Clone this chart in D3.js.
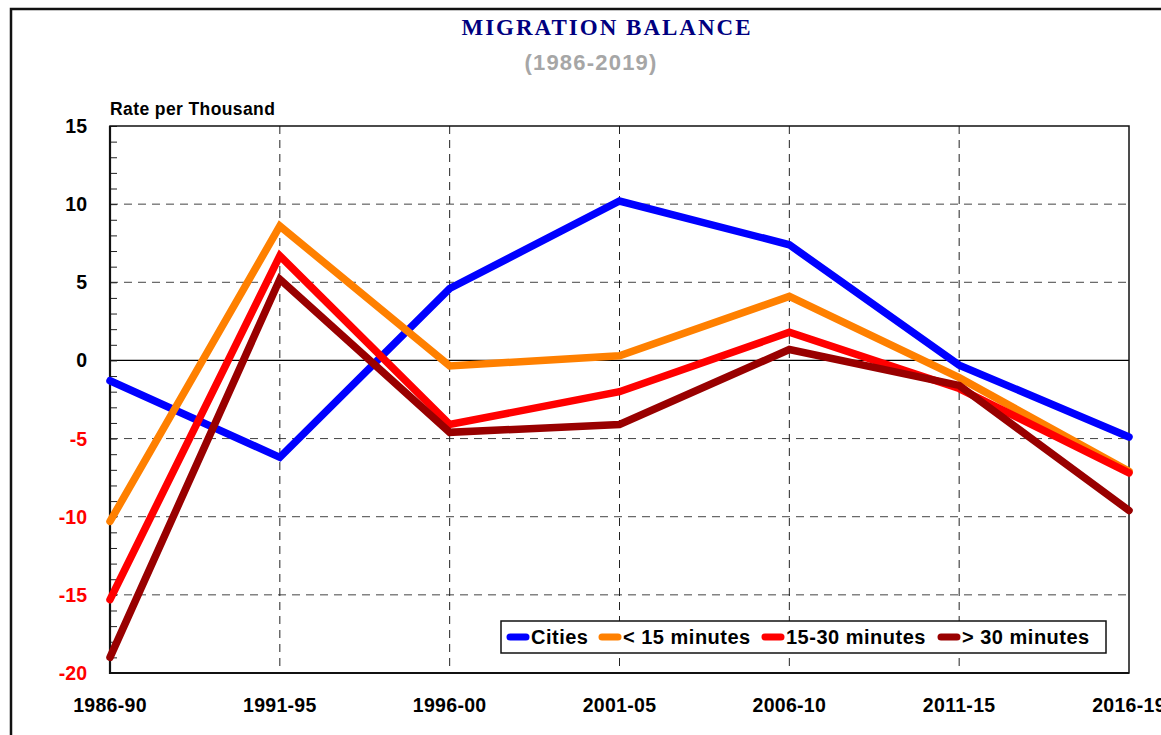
<!DOCTYPE html>
<html>
<head>
<meta charset="utf-8">
<script src="https://cdn.jsdelivr.net/npm/d3@7"></script>
<style>
  body { margin: 0; background: #fff; }
  svg { display: block; font-family: "Liberation Sans", Arial, sans-serif; }
</style>
</head>
<body>
<svg id="chart"></svg>
<script>
// DATA
const periods = ["1986-90", "1991-95", "1996-00", "2001-05", "2006-10", "2011-15", "2016-19"];
const cities = [-1.3, -6.2, 4.6, 10.2, 7.4, -0.3, -4.9];
const under15 = [-10.3, 8.6, -0.35, 0.3, 4.1, -1.1, -7.1];
const from15to30 = [-15.3, 6.7, -4.1, -2.0, 1.8, -1.8, -7.2];
const over30 = [-19.0, 5.2, -4.6, -4.1, 0.7, -1.6, -9.6];
const seriesNames = ["Cities", "< 15 minutes", "15-30 minutes", "> 30 minutes"];
const yTicks = [15, 10, 5, 0, -5, -10, -15, -20];

const seriesColors = ["#0000ff", "#ff8000", "#ff0000", "#990000"];
const allSeries = [cities, under15, from15to30, over30];

// SVG
const wsvg = 1161, hsvg = 735;
const plotLeft = 110, plotRight = 1129, plotTop = 126, plotBottom = 673;

const svg = d3.select("#chart")
    .attr("width", wsvg)
    .attr("height", hsvg);

// outer frame (only top and left visible)
svg.append("path")
    .attr("d", `M11,740 L11,9 L1170,9`)
    .attr("fill", "none")
    .attr("stroke", "#111")
    .attr("stroke-width", 2.5);

const xScale = d3.scalePoint(periods, [plotLeft, plotRight]);
const yScale = d3.scaleLinear([-20, 15], [plotBottom, plotTop]);

// grid
svg.append("g")
    .selectAll("line")
    .data(yTicks.filter(d => d !== 0 && d !== 15 && d !== -20))
    .join("line")
    .attr("x1", plotLeft).attr("x2", plotRight)
    .attr("y1", d => yScale(d)).attr("y2", d => yScale(d))
    .attr("stroke", "#444")
    .attr("stroke-width", 1)
    .attr("stroke-dasharray", "8,6");

svg.append("g")
    .selectAll("line")
    .data(periods.slice(1, -1))
    .join("line")
    .attr("x1", d => xScale(d)).attr("x2", d => xScale(d))
    .attr("y1", plotTop).attr("y2", plotBottom)
    .attr("stroke", "#222")
    .attr("stroke-width", 1)
    .attr("stroke-dasharray", "8,6");

// zero line
svg.append("line")
    .attr("x1", plotLeft).attr("x2", plotRight)
    .attr("y1", yScale(0)).attr("y2", yScale(0))
    .attr("stroke", "#000")
    .attr("stroke-width", 1.2);

// minor ticks on y axis (pointing inwards)
const yAxis = d3.axisRight(yScale)
    .tickValues(d3.range(-20, 16, 1))
    .tickSize(7)
    .tickFormat("");
const yAxisG = svg.append("g")
    .attr("transform", `translate(${plotLeft},0)`)
    .call(yAxis);
yAxisG.select(".domain").remove();
yAxisG.selectAll(".tick line").attr("stroke", "#222");

// plot border
svg.append("rect")
    .attr("x", plotLeft).attr("y", plotTop)
    .attr("width", plotRight - plotLeft).attr("height", plotBottom - plotTop)
    .attr("fill", "none")
    .attr("stroke", "#111")
    .attr("stroke-width", 1.5);
svg.append("path")
    .attr("d", `M${plotLeft},${plotTop} L${plotLeft},${plotBottom} L${plotRight},${plotBottom}`)
    .attr("fill", "none")
    .attr("stroke", "#111")
    .attr("stroke-width", 2.2);

// y tick labels
svg.append("g")
    .selectAll("text")
    .data(yTicks)
    .join("text")
    .attr("x", 87)
    .attr("y", d => yScale(d))
    .attr("dy", "0.36em")
    .attr("text-anchor", "end")
    .attr("font-size", 19.5)
    .attr("font-weight", "bold")
    .attr("fill", d => d < 0 ? "#ff0000" : "#000")
    .text(d => d);

// x labels (last one runs off the right edge, as in the original)
svg.append("g")
    .selectAll("text")
    .data(periods)
    .join("text")
    .attr("x", d => xScale(d))
    .attr("y", 712)
    .attr("text-anchor", "middle")
    .attr("font-size", 19.5)
    .attr("letter-spacing", 0.3)
    .attr("font-weight", "bold")
    .attr("fill", "#000")
    .text(d => d);

// lines
const line = d3.line()
    .x((d, i) => xScale(periods[i]))
    .y(d => yScale(d));

svg.append("g")
    .selectAll("path")
    .data(allSeries)
    .join("path")
    .attr("d", line)
    .attr("fill", "none")
    .attr("stroke", (d, i) => seriesColors[i])
    .attr("stroke-width", 7.5)
    .attr("stroke-linecap", "round")
    .attr("stroke-linejoin", "miter");

// titles
svg.append("text")
    .attr("x", 607).attr("y", 35)
    .attr("text-anchor", "middle")
    .attr("font-family", "'Liberation Serif', 'Times New Roman', serif")
    .attr("font-weight", "bold")
    .attr("font-size", 23)
    .attr("letter-spacing", 2)
    .attr("fill", "#000080")
    .text("MIGRATION BALANCE");

svg.append("text")
    .attr("x", 591).attr("y", 70)
    .attr("text-anchor", "middle")
    .attr("font-weight", "bold")
    .attr("font-size", 22)
    .attr("letter-spacing", 1.2)
    .attr("fill", "#a6a6a6")
    .text("(1986-2019)");

svg.append("text")
    .attr("x", 110).attr("y", 115)
    .attr("font-weight", "bold")
    .attr("font-size", 17.5)
    .attr("letter-spacing", 0.4)
    .attr("fill", "#000")
    .text("Rate per Thousand");

// legend
const legendX = [506, 598, 761, 937];
const legend = svg.append("g");
legend.append("rect")
    .attr("x", 501).attr("y", 621)
    .attr("width", 605).attr("height", 32)
    .attr("fill", "#fff")
    .attr("stroke", "#111")
    .attr("stroke-width", 1.5);

const items = legend.selectAll("g.item")
    .data(seriesNames)
    .join("g")
    .attr("class", "item")
    .attr("transform", (d, i) => `translate(${legendX[i]},637)`);

items.append("line")
    .attr("x1", 4).attr("x2", 20)
    .attr("stroke", (d, i) => seriesColors[i])
    .attr("stroke-width", 7)
    .attr("stroke-linecap", "round");

items.append("text")
    .attr("x", 25)
    .attr("dy", "0.36em")
    .attr("font-size", 20)
    .attr("letter-spacing", 0.5)
    .attr("font-weight", "bold")
    .attr("fill", "#000")
    .text(d => d);
</script>
</body>
</html>
